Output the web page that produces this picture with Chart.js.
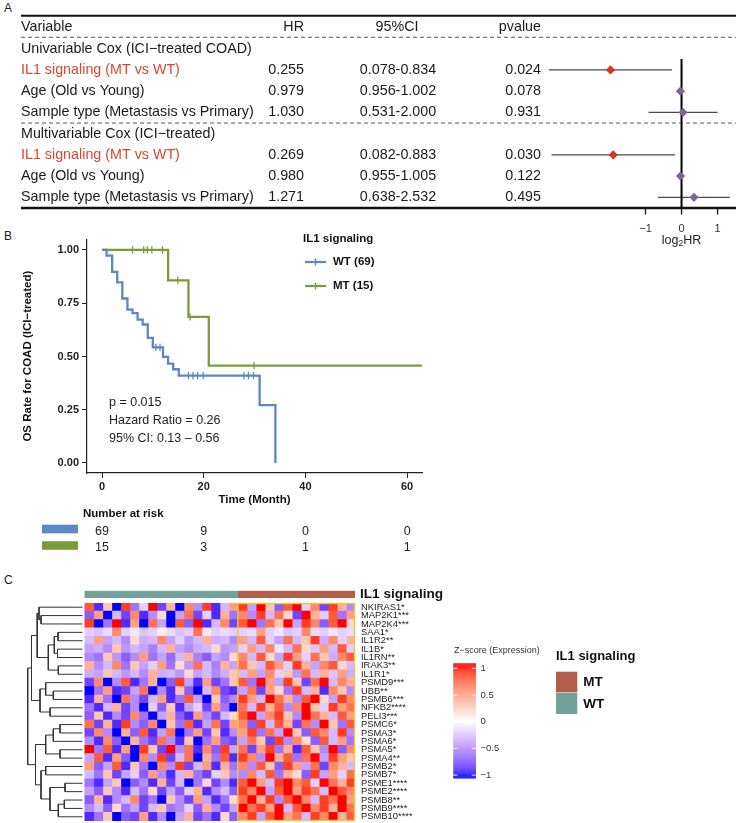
<!DOCTYPE html>
<html>
<head>
<meta charset="utf-8">
<script src="https://cdn.jsdelivr.net/npm/chart.js@4.4.1/dist/chart.umd.min.js"></script>
<style>
  html, body { margin: 0; padding: 0; background: #fff; }
  body { width: 736px; height: 823px; position: relative; overflow: hidden; font-family: "Liberation Sans", Arial, sans-serif; }
  canvas { position: absolute; }
  .tag { position: absolute; font-size: 12px; color: #222; }
</style>
</head>
<body>
<div class="tag" style="left:4px;top:1px">A</div>
<div class="tag" style="left:4px;top:229px">B</div>
<div class="tag" style="left:4px;top:573px">C</div>
<canvas id="forest" width="736" height="250" style="left:0;top:0"></canvas>
<canvas id="km" width="460" height="340" style="left:0;top:228px"></canvas>
<canvas id="heat" width="736" height="222" style="left:0;top:601px"></canvas>
<canvas id="annot" width="736" height="22" style="left:0;top:583px"></canvas>
<canvas id="dendro" width="84" height="222" style="left:0;top:601px"></canvas>
<script>
const FONT = '"Liberation Sans", Arial, sans-serif';

// ---------- panel A : cox models ----------
const coxVars = ['IL1 signaling (MT vs WT)', 'Age (Old vs Young)', 'Sample type (Metastasis vs Primary)',
                 'IL1 signaling (MT vs WT)', 'Age (Old vs Young)', 'Sample type (Metastasis vs Primary)'];
const coxRow = [2, 3, 4, 6, 7, 8];
const coxHR = [0.255, 0.979, 1.030, 0.269, 0.980, 1.271];
const coxLow = [0.078, 0.956, 0.531, 0.082, 0.955, 0.638];
const coxHigh = [0.834, 1.002, 2.000, 0.883, 1.005, 2.532];
const coxP = [0.024, 0.078, 0.931, 0.030, 0.122, 0.495];
const coxSections = ['Univariable Cox (ICI\u2212treated COAD)', 'Multivariable Cox (ICI\u2212treated)'];
const sectionRow = [1, 5];
const forestTicks = [-1, 0, 1];

// ---------- panel B : kaplan-meier ----------
const kmTimeTicks = [0, 20, 40, 60];
const kmSurvTicks = [0, 0.25, 0.5, 0.75, 1];
const wtCurve = [[0, 1], [0.9, 0.973], [2.0, 0.897], [3.0, 0.848], [4.0, 0.772], [5.0, 0.72], [6.0, 0.703],
                 [7.0, 0.673], [8.0, 0.65], [9.0, 0.587], [10.0, 0.543], [12.0, 0.498], [13.0, 0.466],
                 [14.0, 0.44], [15.1, 0.41], [31.0, 0.272], [34.1, 0]];
const mtCurve = [[0, 1], [13.0, 0.857], [17.0, 0.686], [21.0, 0.457], [62.9, 0.457]];
const wtCensor = [[10.6, 0.543], [11.4, 0.543], [17.0, 0.41], [17.9, 0.41], [18.8, 0.41], [19.9, 0.41],
                  [27.9, 0.41], [28.8, 0.41], [29.8, 0.41]];
const mtCensor = [[6.0, 1], [8.2, 1], [8.9, 1], [9.8, 1], [11.9, 1], [14.9, 0.857], [17.3, 0.686], [29.9, 0.457]];
const riskWT = [69, 9, 0, 0];
const riskMT = [15, 3, 1, 1];
const kmStats = ['p = 0.015', 'Hazard Ratio = 0.26', '95% CI: 0.13 \u2013 0.56'];

// ---------- panel C : heatmap ----------
const heatGenes = ['NKIRAS1*', 'MAP2K1***', 'MAP2K4***', 'SAA1*', 'IL1R2**', 'IL1B*', 'IL1RN**', 'IRAK3**',
  'IL1R1*', 'PSMD9***', 'UBB**', 'PSMB6***', 'NFKB2****', 'PELI3***', 'PSMC6*', 'PSMA3*', 'PSMA6*',
  'PSMA5*', 'PSMA4**', 'PSMB2*', 'PSMB7*', 'PSME1****', 'PSME2****', 'PSMB8**', 'PSMB9****', 'PSMB10****'];
// z-scores, coarse blocks of samples (WT blocks then MT blocks), read by eye
const zWT = [
  [0.8,-0.9,0.3,-1,0.9,-0.6,-0.2,1,-0.8,0.4,-1,0.6,-0.5,0.9,-0.9,-0.3,0.5],
  [-0.7,0.5,-1,-0.3,-0.8,0.6,-0.9,-0.5,0.2,-1,-0.4,0.7,-0.8,-0.2,-0.9,0.4,-0.6],
  [0.9,-1,-0.6,1,-0.9,0.5,-1,0.7,-0.4,-1,0.8,-0.7,1,-0.9,-0.3,0.6,-0.8],
  [-0.2,-0.25,-0.15,0.6,-0.2,-0.1,-0.25,-0.2,0.1,-0.15,-0.25,-0.2,0.7,-0.1,-0.2,-0.15,-0.2],
  [-0.3,0.5,-0.4,-0.3,-0.5,0.2,-0.35,-0.3,0.6,-0.4,-0.2,-0.45,-0.3,0.4,-0.35,-0.3,-0.5],
  [-0.4,-0.35,-0.5,0.3,-0.45,-0.3,-0.4,-0.55,-0.3,0.4,-0.4,-0.5,-0.35,-0.3,0.2,-0.45,-0.4],
  [-0.5,-0.6,0.3,-0.45,-0.7,-0.5,0.5,-0.6,-0.4,-0.65,-0.3,0.4,-0.55,-0.7,-0.4,-0.5,0.2],
  [0.4,-0.5,-0.3,0.6,-0.6,0.3,-0.4,-0.2,0.5,-0.6,0.2,-0.45,0.7,-0.3,-0.55,0.4,-0.4],
  [-0.35,-0.4,0.3,-0.3,-0.45,-0.3,-0.5,0.4,-0.35,-0.3,-0.45,0.2,-0.4,-0.3,-0.5,-0.35,0.3],
  [-0.8,0.6,-1,-0.5,0.8,-0.9,-0.6,0.4,-1,-0.7,0.9,-0.4,-0.9,0.5,-0.8,-0.6,0.3],
  [-1,-0.6,0.5,-0.9,-0.8,-0.4,0.7,-1,-0.5,-0.9,0.3,-0.7,-1,-0.3,0.6,-0.8,-0.9],
  [-0.9,0.4,-0.6,-1,0.7,-0.5,-0.8,-0.3,0.5,-0.9,-0.6,0.8,-0.4,-1,0.3,-0.7,-0.5],
  [-0.6,-0.9,-0.3,0.4,-0.8,-0.5,-1,-0.2,-0.7,0.3,-0.9,-0.4,-0.2,-0.8,0.5,-0.6,-1],
  [-0.7,0.3,-0.9,-0.5,-0.8,0.6,-0.6,-1,-0.4,0.4,-0.7,-0.9,0.5,-0.5,-0.8,-0.3,0.2],
  [0.7,-0.8,0.4,-0.9,0.9,-0.5,-0.7,0.6,-1,0.3,-0.6,0.8,-0.9,-0.4,0.7,-0.8,0.5],
  [-0.8,0.6,-0.5,-1,0.4,-0.7,0.8,-0.9,-0.4,0.7,-1,-0.6,0.5,-0.8,0.3,-0.9,-0.5],
  [-0.5,-0.9,0.6,-0.7,-1,0.4,-0.6,-0.8,0.7,-0.5,-0.9,0.3,-1,-0.6,0.5,-0.7,-0.8],
  [1,-0.6,0.8,-0.9,0.5,-1,0.9,0.3,-0.8,1,-0.5,0.7,-0.9,0.6,-0.7,0.9,-0.4],
  [-0.4,0.8,-0.9,0.5,-0.7,-1,0.6,-0.5,0.9,-0.8,-0.3,0.7,-1,0.4,-0.6,0.8,-0.9],
  [0.5,-0.7,-0.4,0.8,-0.9,0.3,-0.6,-1,0.6,-0.5,0.9,-0.8,-0.3,0.5,-0.9,0.4,-0.6],
  [-0.3,-0.6,0.3,-0.8,-0.4,-0.2,-0.7,0.5,-0.5,-0.9,-0.3,0.4,-0.6,-0.8,-0.2,0.3,-0.5],
  [-0.6,-0.9,-0.4,0.3,-1,-0.7,-0.5,-0.9,0.4,-0.8,-0.3,-1,-0.6,0.2,-0.8,-0.5,-0.9],
  [-0.4,-0.7,0.3,-0.5,-0.9,-0.3,-0.6,0.2,-0.8,-0.4,-0.7,-0.2,0.4,-0.9,-0.5,-0.3,-0.7],
  [-0.7,0.4,-0.9,-0.5,-0.3,0.6,-0.8,-0.6,-1,0.3,-0.5,-0.8,0.5,-0.4,-0.9,-0.6,0.2],
  [-0.5,-0.3,-0.7,0.2,-0.6,-0.4,-0.8,-0.3,0.3,-0.6,-0.5,-0.2,-0.7,0.4,-0.5,-0.8,-0.4],
  [-0.9,-0.6,0.3,-1,-0.7,-0.8,0.5,-0.9,-0.5,-1,-0.4,0.4,-0.8,-0.6,-0.9,0.2,-0.7]
];
const zMT = [
  [0.9,-0.4,1,0.3,-0.7,0.8,1,-0.2,0.6,-0.8,0.9,0.4,-0.5],
  [0.6,-0.5,0.9,-0.3,0.7,0.2,-0.8,1,0.4,-0.2,0.8,-0.6,0.5],
  [0.8,1,-0.6,0.7,0.3,1,-0.4,0.9,0.6,-0.7,0.8,1,0.2],
  [-0.2,-0.15,0.5,-0.2,-0.1,-0.25,-0.2,0.6,-0.15,-0.2,-0.1,-0.2,-0.15],
  [0.5,-0.3,0.8,-0.2,-0.4,0.7,-0.3,0.3,0.9,-0.35,0.6,-0.2,0.4],
  [-0.2,0.5,-0.3,0.6,-0.1,-0.3,0.7,0.2,-0.25,0.5,-0.3,0.8,-0.2],
  [0.6,-0.3,0.8,0.2,-0.4,0.9,0.5,-0.2,0.7,0.3,-0.35,0.6,0.8],
  [0.7,0.3,-0.3,0.8,0.5,-0.2,0.9,0.4,-0.4,0.6,0.8,0.2,-0.3],
  [-0.3,0.5,-0.4,0.6,-0.2,0.3,-0.45,0.7,-0.3,0.4,-0.25,0.5,-0.35],
  [0.8,-0.6,1,0.5,-0.4,0.9,0.3,-0.8,0.7,1,-0.3,0.6,0.4],
  [-0.4,0.7,-0.8,0.5,0.2,-0.6,0.9,-0.3,0.4,-0.9,0.6,0.3,-0.5],
  [0.9,0.5,-0.3,1,0.7,0.4,-0.5,0.8,1,0.2,-0.4,0.9,0.6],
  [0.7,-0.3,0.9,0.4,0.8,-0.5,0.6,1,0.3,-0.2,0.9,0.5,0.7],
  [0.8,1,-0.4,0.6,0.9,0.3,-0.5,1,0.7,0.4,-0.3,0.8,0.5],
  [0.6,-0.7,0.9,-0.3,0.8,0.4,-0.8,0.7,-0.5,1,0.3,-0.6,0.8],
  [0.5,0.9,-0.6,0.7,-0.4,1,0.3,-0.7,0.8,0.6,-0.3,0.9,-0.5],
  [-0.4,0.7,0.3,-0.8,0.9,-0.5,0.6,0.2,-0.7,0.8,-0.3,0.5,-0.6],
  [0.7,-0.8,0.5,0.9,-0.6,0.4,-0.9,0.8,0.3,-0.5,1,-0.7,0.6],
  [0.9,0.6,-0.5,1,0.4,0.8,-0.6,0.7,1,-0.4,0.9,0.5,0.3],
  [0.6,-0.5,0.8,0.3,-0.7,0.9,0.5,-0.4,0.7,-0.8,0.6,0.4,-0.3],
  [-0.5,0.6,-0.3,0.8,-0.6,0.4,0.2,-0.7,0.9,-0.4,0.5,-0.2,0.7],
  [0.8,1,0.5,-0.3,0.9,1,0.6,0.8,-0.2,1,0.7,0.4,0.9],
  [0.9,0.6,1,-0.4,0.8,1,0.5,0.9,0.7,-0.3,1,0.8,0.6],
  [0.7,1,0.4,0.9,-0.5,0.8,1,0.6,-0.3,0.9,0.7,1,0.5],
  [1,0.7,0.9,0.5,1,-0.3,0.8,1,0.6,0.9,0.4,1,0.7],
  [0.6,0.9,-0.4,0.8,1,0.5,0.7,-0.3,0.9,0.6,1,0.4,0.8]
];
// row dendrogram: [child, child, height]; numbers are leaves, 'mK' is merge K
const dendroMerges = [
  [1, 2, 41.7], [0, 'm0', 43.7], [3, 4, 24.7], [5, 6, 25.2], ['m2', 'm3', 28.4], [7, 8, 24.4],
  ['m4', 'm5', 34.4], ['m1', 'm6', 45.5], [10, 11, 29.4], [9, 'm8', 37.0], [12, 13, 32.7],
  ['m9', 'm10', 42.7], ['m7', 'm11', 51.2], [14, 15, 22.7], ['m13', 16, 29.4], [17, 18, 22.7],
  ['m14', 'm15', 37.0], [19, 20, 37.0], [21, 22, 17.7], [23, 24, 18.4], ['m19', 25, 24.4],
  ['m18', 'm20', 32.7], ['m17', 'm21', 41.7], ['m16', 'm22', 47.2], ['m12', 'm23', 55.0]
];
const zLegendTicks = [1, 0.5, 0, -0.5, -1];

const RED = '#d4381a', RED_TXT = '#e0452a', PURPLE = '#7f6498';
const BLUE = '#5b87c2', GREEN = '#7b9a3b';
const TEAL = '#72a09c', BROWN = '#b35d4a';

// ---- colour ramp blue-white-red, interpolated in LAB like ComplexHeatmap ----
function lin(c) { c /= 255; return c <= 0.04045 ? c / 12.92 : Math.pow((c + 0.055) / 1.055, 2.4); }
function gam(c) { c = c <= 0.0031308 ? 12.92 * c : 1.055 * Math.pow(c, 1 / 2.4) - 0.055; return Math.round(Math.max(0, Math.min(1, c)) * 255); }
function toLab([r, g, b]) {
  const R = lin(r), G = lin(g), B = lin(b);
  const X = (0.4124 * R + 0.3576 * G + 0.1805 * B) / 0.95047;
  const Y = 0.2126 * R + 0.7152 * G + 0.0722 * B;
  const Z = (0.0193 * R + 0.1192 * G + 0.9505 * B) / 1.08883;
  const f = t => t > 0.008856 ? Math.cbrt(t) : 7.787 * t + 16 / 116;
  return [116 * f(Y) - 16, 500 * (f(X) - f(Y)), 200 * (f(Y) - f(Z))];
}
function fromLab([L, a, b]) {
  const fy = (L + 16) / 116, fx = fy + a / 500, fz = fy - b / 200;
  const inv = t => t * t * t > 0.008856 ? t * t * t : (t - 16 / 116) / 7.787;
  const X = inv(fx) * 0.95047, Y = inv(fy), Z = inv(fz) * 1.08883;
  return [gam(3.2406 * X - 1.5372 * Y - 0.4986 * Z), gam(-0.9689 * X + 1.8758 * Y + 0.0415 * Z), gam(0.0557 * X - 0.2040 * Y + 1.0570 * Z)];
}
const LAB_W = toLab([255, 255, 255]), LAB_B = toLab([0, 0, 255]), LAB_R = toLab([255, 0, 0]);
function zColor(v) {
  v = Math.max(-1, Math.min(1, v));
  const end = v < 0 ? LAB_B : LAB_R, t = Math.abs(v);
  const c = fromLab(LAB_W.map((w, i) => w + (end[i] - w) * t));
  return `rgb(${c[0]},${c[1]},${c[2]})`;
}

function hline(ctx, x1, y, x2) { ctx.beginPath(); ctx.moveTo(x1, y); ctx.lineTo(x2, y); ctx.stroke(); }
// pin an axis to a fixed width/height and drop the label padding it asks for
const pinWidth = w => s => { s.width = w; s.paddingTop = 0; s.paddingBottom = 0; };

// ================= A: forest plot =================
const ROW0 = 27.5, ROWH = 21.23;
const isIL1 = i => coxVars[i].startsWith('IL1');

const forestTable = {
  id: 'forestTable',
  beforeDatasetsDraw(chart) {
    const { ctx, scales: { y } } = chart;
    ctx.save();
    ctx.strokeStyle = '#111';
    ctx.lineWidth = 2; hline(ctx, 21, 15.7, 736);
    ctx.lineWidth = 2.6; hline(ctx, 21, y.getPixelForValue(8.5), 736);
    ctx.strokeStyle = '#555'; ctx.lineWidth = 1; ctx.setLineDash([4, 3]);
    hline(ctx, 21, y.getPixelForValue(0.46), 736);
    hline(ctx, 21, y.getPixelForValue(4.5), 736);
    ctx.restore();
  },
  afterDatasetsDraw(chart) {
    const { ctx, scales: { x, y } } = chart;
    ctx.save();
    ctx.textBaseline = 'middle';
    ctx.font = `14.3px ${FONT}`;
    ctx.fillStyle = '#1a1a1a';
    const hy = y.getPixelForValue(0);
    ctx.textAlign = 'left'; ctx.fillText('Variable', 21, hy);
    ctx.textAlign = 'right'; ctx.fillText('HR', 304, hy); ctx.fillText('pvalue', 541, hy);
    ctx.textAlign = 'center'; ctx.fillText('95%CI', 397, hy);
    ctx.textAlign = 'left';
    coxSections.forEach((s, k) => ctx.fillText(s, 21, y.getPixelForValue(sectionRow[k])));
    coxVars.forEach((v, i) => {
      const py = y.getPixelForValue(coxRow[i]);
      ctx.fillStyle = isIL1(i) ? RED_TXT : '#1a1a1a';
      ctx.textAlign = 'left'; ctx.fillText(v, 21, py);
      ctx.fillStyle = '#1a1a1a';
      ctx.textAlign = 'right'; ctx.fillText(coxHR[i].toFixed(3), 304, py);
      ctx.fillText(coxP[i].toFixed(3), 541, py);
      ctx.textAlign = 'center'; ctx.fillText(coxLow[i].toFixed(3) + '-' + coxHigh[i].toFixed(3), 398, py);
    });
    // x axis of the forest
    const by = y.getPixelForValue(8.5);
    ctx.strokeStyle = '#111'; ctx.lineWidth = 1.3;
    ctx.font = `11px ${FONT}`; ctx.fillStyle = '#333'; ctx.textAlign = 'center';
    forestTicks.forEach(t => {
      const px = x.getPixelForValue(t);
      ctx.beginPath(); ctx.moveTo(px, by); ctx.lineTo(px, by + 6.5); ctx.stroke();
      ctx.fillText(t < 0 ? '\u2212' + Math.abs(t) : String(t), px, 228.5);
    });
    const cx = x.getPixelForValue(0);
    ctx.font = `12.5px ${FONT}`; ctx.fillStyle = '#222';
    const w1 = ctx.measureText('log').width, w3 = ctx.measureText('HR').width;
    ctx.font = `8.5px ${FONT}`;
    const w2 = ctx.measureText('2').width;
    let sx = cx - (w1 + w2 + w3) / 2;
    ctx.textAlign = 'left';
    ctx.font = `12.5px ${FONT}`; ctx.fillText('log', sx, 240.5);
    ctx.font = `8.5px ${FONT}`; ctx.fillText('2', sx + w1, 243.5);
    ctx.font = `12.5px ${FONT}`; ctx.fillText('HR', sx + w1 + w2, 240.5);
    ctx.restore();
  }
};

new Chart(document.getElementById('forest'), {
  type: 'scatter',
  data: {
    datasets: [
      {
        data: coxHR.map((h, i) => ({ x: Math.log2(h), y: coxRow[i] })),
        pointStyle: 'rectRot', pointRadius: 4.6, pointBorderWidth: 0,
        pointBackgroundColor: coxHR.map((h, i) => isIL1(i) ? RED : PURPLE)
      },
      { data: [{ x: 0, y: 1.48 }, { x: 0, y: 8.5 }], showLine: true, borderColor: '#000', borderWidth: 2, pointRadius: 0 },
      ...coxHR.map((h, i) => ({
        data: [{ x: Math.log2(coxLow[i]), y: coxRow[i] }, { x: Math.log2(coxHigh[i]), y: coxRow[i] }],
        showLine: true, borderColor: '#4a4a4a', borderWidth: 1.3, pointRadius: 0
      }))
    ]
  },
  options: {
    responsive: false, animation: false, events: [],
    layout: { padding: { left: 0, right: 0, top: ROW0 - ROWH, bottom: 250 - (ROW0 + 8.5 * ROWH) } },
    plugins: { legend: { display: false }, tooltip: { enabled: false } },
    scales: {
      x: { type: 'linear', display: false, min: -685.5 / 36.5, max: (736 - 685.5) / 36.5 },
      y: { type: 'linear', display: false, reverse: true, min: -1, max: 8.5 }
    }
  },
  plugins: [forestTable]
});

// ================= B: Kaplan-Meier =================
const kmExtras = {
  id: 'kmExtras',
  afterDraw(chart) {
    const { ctx, scales: { x } } = chart;
    ctx.save();
    ctx.textBaseline = 'middle';
    ctx.fillStyle = '#111';
    ctx.font = `bold 11.5px ${FONT}`;
    ctx.fillText('IL1 signaling', 303, 11);
    [[`WT (${riskWT[0]})`, BLUE, 34], [`MT (${riskMT[0]})`, GREEN, 58]].forEach(([lab, col, yy]) => {
      ctx.strokeStyle = col; ctx.lineWidth = 2.2; hline(ctx, 305, yy, 326);
      ctx.lineWidth = 1.4;
      ctx.beginPath(); ctx.moveTo(315.5, yy - 3.5); ctx.lineTo(315.5, yy + 3.5); ctx.stroke();
      ctx.fillStyle = '#111'; ctx.fillText(lab, 333, yy);
    });
    ctx.font = `12.5px ${FONT}`; ctx.fillStyle = '#222';
    kmStats.forEach((s, i) => ctx.fillText(s, 109, 175 + 18 * i));
    ctx.font = `bold 11.5px ${FONT}`; ctx.fillStyle = '#111';
    ctx.fillText('Number at risk', 83, 286);
    [[riskWT, BLUE, 301], [riskMT, GREEN, 317.5]].forEach(([arr, col, yy]) => {
      ctx.fillStyle = col; ctx.fillRect(42, yy - 4.3, 36, 8.6);
      ctx.fillStyle = '#222'; ctx.font = `12.5px ${FONT}`; ctx.textAlign = 'center';
      arr.forEach((n, j) => ctx.fillText(String(n), x.getPixelForValue(kmTimeTicks[j]), yy + 2.5));
      ctx.textAlign = 'left';
    });
    ctx.restore();
  }
};

const censorSet = (pts, col) => ({
  data: pts.map(([t, s]) => ({ x: t, y: s })), pointStyle: 'line', rotation: 90,
  pointRadius: 3.6, pointBorderColor: col, pointBorderWidth: 1.3
});
const curveSet = (pts, col) => ({
  data: pts.map(([t, s]) => ({ x: t, y: s })), showLine: true, stepped: true,
  borderColor: col, borderWidth: 2.3, pointRadius: 0
});
const axisTickFont = { family: FONT, size: 11, weight: 'bold' };

new Chart(document.getElementById('km'), {
  type: 'scatter',
  data: { datasets: [censorSet(wtCensor, BLUE), censorSet(mtCensor, GREEN), curveSet(wtCurve, BLUE), curveSet(mtCurve, GREEN)] },
  options: {
    responsive: false, animation: false, events: [],
    layout: { padding: { left: 0, right: 38, top: 11.3, bottom: 61 } },
    plugins: { legend: { display: false }, tooltip: { enabled: false } },
    scales: {
      x: {
        type: 'linear', min: -2.95, max: 62.93,
        afterBuildTicks: s => { s.ticks = kmTimeTicks.map(v => ({ value: v })); },
        afterFit: s => { s.height = 34; s.paddingLeft = 0; s.paddingRight = 0; },
        grid: { drawOnChartArea: false, drawTicks: true, tickLength: 5, color: '#222', lineWidth: 1 },
        border: { display: true, color: '#222', width: 1.2 },
        ticks: { font: axisTickFont, color: '#222', padding: 2, maxRotation: 0, callback: v => String(v) },
        title: { display: true, text: 'Time (Month)', color: '#111', font: { family: FONT, size: 11.5, weight: 'bold' }, padding: { top: 0, bottom: 0 } }
      },
      y: {
        type: 'linear', min: -0.047, max: 1.05,
        afterBuildTicks: s => { s.ticks = kmSurvTicks.map(v => ({ value: v })); },
        afterFit: pinWidth(87),
        grid: { drawOnChartArea: false, drawTicks: true, tickLength: 5, color: '#222', lineWidth: 1 },
        border: { display: true, color: '#222', width: 1.2 },
        ticks: { font: axisTickFont, color: '#222', padding: 3, callback: v => Number(v).toFixed(2) },
        title: { display: true, text: 'OS Rate for COAD (ICI\u2212treated)', color: '#111', font: { family: FONT, size: 11.5, weight: 'bold' }, padding: { top: 21, bottom: 0 } }
      }
    }
  },
  plugins: [kmExtras]
});

// ================= C: heatmap =================
const nWT = zWT[0].length, nMT = zMT[0].length;
const HEAT_TOP = 601;

const heatExtras = {
  id: 'heatExtras',
  afterDraw(chart) {
    const { ctx, chartArea, scales: { x } } = chart;
    ctx.save();
    // yellow frame around the MT samples
    ctx.strokeStyle = '#f2c531'; ctx.lineWidth = 1.4;
    const x0 = x.getPixelForValue(nWT), x1 = x.getPixelForValue(nWT + nMT);
    ctx.strokeRect(x0, chartArea.top + 0.5, x1 - x0 - 0.5, chartArea.bottom - chartArea.top - 1);
    // colour bar legend
    const zero = 721.7 - HEAT_TOP, unit = 53.4;
    for (let py = 663.3 - HEAT_TOP; py < 778.3 - HEAT_TOP; py += 1) {
      ctx.fillStyle = zColor((zero - (py + 0.5)) / unit);
      ctx.fillRect(453.3, py, 22.7, 1.2);
    }
    ctx.strokeStyle = 'rgba(255,255,255,0.9)'; ctx.lineWidth = 1;
    ctx.textBaseline = 'middle'; ctx.textAlign = 'left';
    ctx.font = `9.5px ${FONT}`; ctx.fillStyle = '#333';
    zLegendTicks.forEach(v => {
      const py = zero - v * unit;
      hline(ctx, 453.3, py, 457.5); hline(ctx, 471.8, py, 476);
      ctx.fillText(v < 0 ? '\u2212' + Math.abs(v) : String(v), 480.5, py);
    });
    ctx.font = `9px ${FONT}`;
    ctx.fillText('Z\u2212score (Expression)', 454, 651 - HEAT_TOP);
    // annotation legend
    ctx.fillStyle = '#111'; ctx.font = `bold 13px ${FONT}`;
    ctx.fillText('IL1 signaling', 556, 656 - HEAT_TOP);
    ctx.fillStyle = BROWN; ctx.fillRect(556, 671.7 - HEAT_TOP, 21.3, 20.6);
    ctx.fillStyle = TEAL; ctx.fillRect(556, 692.8 - HEAT_TOP, 21.3, 21.2);
    ctx.fillStyle = '#111'; ctx.font = `bold 13.5px ${FONT}`;
    ctx.fillText('MT', 583.3, 682.3 - HEAT_TOP);
    ctx.fillText('WT', 583.3, 704 - HEAT_TOP);
    ctx.restore();
  }
};

const heatSets = [];
for (let c = 0; c < nWT + nMT; c++) {
  heatSets.push({
    data: heatGenes.map(() => 1),
    backgroundColor: heatGenes.map((g, r) => zColor(c < nWT ? zWT[r][c] : zMT[r][c - nWT])),
    borderWidth: 0, inflateAmount: 0.6, barPercentage: 1, categoryPercentage: 1
  });
}

new Chart(document.getElementById('heat'), {
  type: 'bar',
  data: { labels: heatGenes, datasets: heatSets },
  options: {
    indexAxis: 'y', responsive: false, animation: false, events: [],
    layout: { padding: { left: 84.5, right: 0, top: 2, bottom: 2 } },
    plugins: { legend: { display: false }, tooltip: { enabled: false } },
    scales: {
      x: { type: 'linear', stacked: true, display: false, min: 0, max: nWT + nMT },
      y: {
        stacked: true, position: 'right',
        afterFit: pinWidth(736 - 355),
        grid: { display: false, drawTicks: false }, border: { display: false },
        ticks: { autoSkip: false, padding: 6, color: '#222', font: { family: FONT, size: 9.4 } }
      }
    }
  },
  plugins: [heatExtras]
});

new Chart(document.getElementById('annot'), {
  type: 'bar',
  data: {
    labels: ['IL1 signaling'],
    datasets: [
      { data: [nWT], backgroundColor: TEAL, borderWidth: 0, barPercentage: 1, categoryPercentage: 1 },
      { data: [nMT], backgroundColor: BROWN, borderWidth: 0, barPercentage: 1, categoryPercentage: 1 }
    ]
  },
  options: {
    indexAxis: 'y', responsive: false, animation: false, events: [],
    layout: { padding: { left: 84.5, right: 0, top: 7.7, bottom: 7 } },
    plugins: { legend: { display: false }, tooltip: { enabled: false } },
    scales: {
      x: { type: 'linear', stacked: true, display: false, min: 0, max: nWT + nMT },
      y: {
        stacked: true, position: 'right',
        afterFit: pinWidth(736 - 355),
        grid: { display: false, drawTicks: false }, border: { display: false },
        ticks: { autoSkip: false, padding: 5, color: '#111', font: { family: FONT, size: 13.6, weight: 'bold' } }
      }
    }
  }
});

// dendrogram from the merge list
const nodes = {};
heatGenes.forEach((g, i) => { nodes[i] = { y: i, h: 0 }; });
const dendroSets = dendroMerges.map(([a, b, h], k) => {
  const A = nodes[a], B = nodes[b];
  nodes['m' + k] = { y: (A.y + B.y) / 2, h: h };
  return {
    data: [{ x: A.h, y: A.y }, { x: h, y: A.y }, { x: h, y: B.y }, { x: B.h, y: B.y }],
    showLine: true, borderColor: '#333', borderWidth: 1, pointRadius: 0
  };
});

new Chart(document.getElementById('dendro'), {
  type: 'scatter',
  data: { datasets: dendroSets },
  options: {
    responsive: false, animation: false, events: [],
    layout: { padding: { left: 0, right: 1.3, top: 2, bottom: 2 } },
    plugins: { legend: { display: false }, tooltip: { enabled: false } },
    scales: {
      x: { type: 'linear', display: false, reverse: true, min: 0, max: 82.7 },
      y: { type: 'linear', display: false, reverse: true, min: -0.5, max: heatGenes.length - 0.5 }
    }
  }
});
</script>
</body>
</html>
